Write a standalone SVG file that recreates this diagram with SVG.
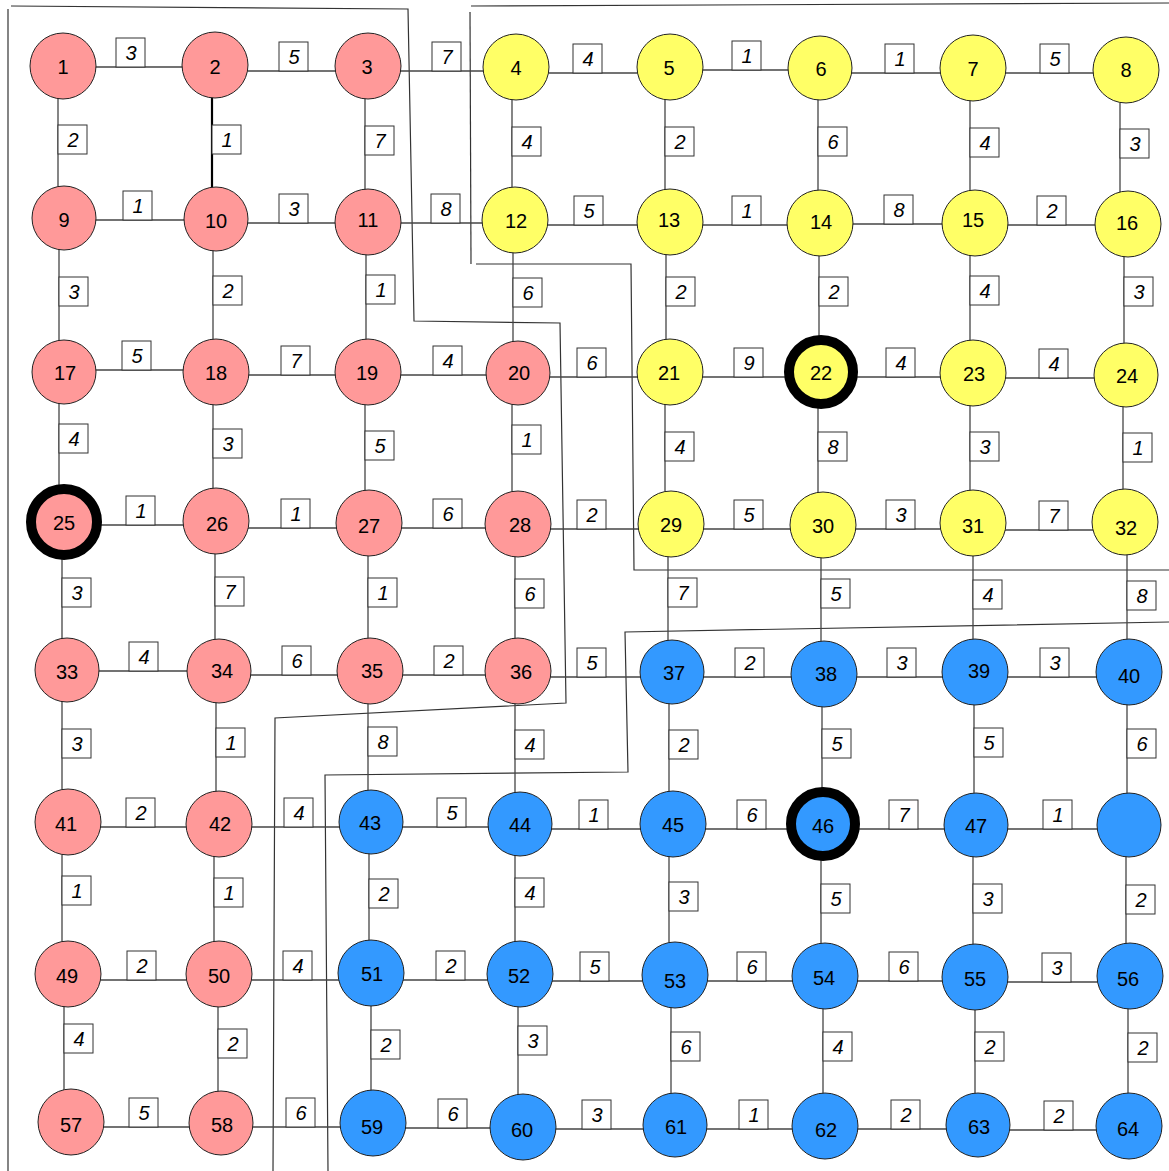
<svg xmlns="http://www.w3.org/2000/svg" width="1169" height="1171" viewBox="0 0 1169 1171">
<style>
.bg{fill:#fff}
.reg{fill:none;stroke:#333;stroke-width:1.2}
.e{stroke:#444;stroke-width:1.3}
.eb{stroke:#000;stroke-width:2.2}
.w rect{fill:#fff;stroke:#333;stroke-width:1}
.w text{font-family:"Liberation Sans",Arial,sans-serif;font-size:20px;font-style:italic;text-anchor:middle;fill:#000}
.n circle{stroke:#222;stroke-width:1}
.n text{font-family:"Liberation Sans",Arial,sans-serif;font-size:20px;text-anchor:middle;fill:#000;transform:translateY(1px)}
.r circle{fill:#FF9999}
.y circle{fill:#FFFF66}
.b circle{fill:#3399FF}
.n circle.thick{stroke:#000;stroke-width:10}
</style>
<rect class="bg" x="0" y="0" width="1169" height="1171"/>
<g id="regions">
<path class="reg" d="M8,9 L8,1171"/>
<path class="reg" d="M11,6 L408,9 L414,321 L560,323 L566,703 L275,718 L273,1171"/>
<path class="reg" d="M471,6 L1169,3"/>
<path class="reg" d="M470,12 L471,264"/>
<path class="reg" d="M476,264 L631,264 L634,570 L1169,570"/>
<path class="reg" d="M1169,622 L625,632 L628,772 L325,775 L328,1171"/>
</g>
<g id="connectors">
<line class="e" x1="63" y1="67" x2="215" y2="67"/>
<line class="e" x1="215" y1="71" x2="368" y2="71"/>
<line class="e" x1="368" y1="71" x2="516" y2="71"/>
<line class="e" x1="516" y1="73" x2="670" y2="73"/>
<line class="e" x1="670" y1="70" x2="820" y2="70"/>
<line class="e" x1="820" y1="73" x2="973" y2="73"/>
<line class="e" x1="973" y1="73" x2="1126" y2="73"/>
<line class="e" x1="64" y1="220" x2="216" y2="220"/>
<line class="e" x1="216" y1="223" x2="368" y2="223"/>
<line class="e" x1="368" y1="223" x2="515" y2="223"/>
<line class="e" x1="515" y1="225" x2="670" y2="225"/>
<line class="e" x1="670" y1="225" x2="820" y2="225"/>
<line class="e" x1="820" y1="224" x2="975" y2="224"/>
<line class="e" x1="975" y1="225" x2="1128" y2="225"/>
<line class="e" x1="64" y1="370" x2="216" y2="370"/>
<line class="e" x1="216" y1="375" x2="368" y2="375"/>
<line class="e" x1="368" y1="375" x2="518" y2="375"/>
<line class="e" x1="518" y1="377" x2="670" y2="377"/>
<line class="e" x1="670" y1="377" x2="821" y2="377"/>
<line class="e" x1="821" y1="377" x2="973" y2="377"/>
<line class="e" x1="973" y1="378" x2="1126" y2="378"/>
<line class="e" x1="64" y1="525" x2="216" y2="525"/>
<line class="e" x1="216" y1="528" x2="369" y2="528"/>
<line class="e" x1="369" y1="528" x2="518" y2="528"/>
<line class="e" x1="518" y1="529" x2="671" y2="529"/>
<line class="e" x1="671" y1="529" x2="823" y2="529"/>
<line class="e" x1="823" y1="529" x2="973" y2="529"/>
<line class="e" x1="973" y1="530" x2="1125" y2="530"/>
<line class="e" x1="67" y1="671" x2="219" y2="671"/>
<line class="e" x1="219" y1="675" x2="370" y2="675"/>
<line class="e" x1="370" y1="675" x2="518" y2="675"/>
<line class="e" x1="518" y1="677" x2="672" y2="677"/>
<line class="e" x1="672" y1="677" x2="824" y2="677"/>
<line class="e" x1="824" y1="677" x2="975" y2="677"/>
<line class="e" x1="975" y1="677" x2="1129" y2="677"/>
<line class="e" x1="68" y1="827" x2="219" y2="827"/>
<line class="e" x1="219" y1="827" x2="371" y2="827"/>
<line class="e" x1="371" y1="827" x2="520" y2="827"/>
<line class="e" x1="520" y1="829" x2="673" y2="829"/>
<line class="e" x1="673" y1="829" x2="823" y2="829"/>
<line class="e" x1="823" y1="829" x2="976" y2="829"/>
<line class="e" x1="976" y1="829" x2="1129" y2="829"/>
<line class="e" x1="68" y1="980" x2="219" y2="980"/>
<line class="e" x1="219" y1="980" x2="371" y2="980"/>
<line class="e" x1="371" y1="980" x2="520" y2="980"/>
<line class="e" x1="520" y1="981" x2="675" y2="981"/>
<line class="e" x1="675" y1="981" x2="825" y2="981"/>
<line class="e" x1="825" y1="981" x2="975" y2="981"/>
<line class="e" x1="975" y1="982" x2="1130" y2="982"/>
<line class="e" x1="71" y1="1127" x2="221" y2="1127"/>
<line class="e" x1="221" y1="1127" x2="373" y2="1127"/>
<line class="e" x1="373" y1="1128" x2="523" y2="1128"/>
<line class="e" x1="523" y1="1129" x2="675" y2="1129"/>
<line class="e" x1="675" y1="1129" x2="825" y2="1129"/>
<line class="e" x1="825" y1="1129" x2="978" y2="1129"/>
<line class="e" x1="978" y1="1130" x2="1129" y2="1130"/>
<line class="e" x1="58" y1="66" x2="58" y2="218"/>
<line class="eb" x1="212" y1="65" x2="212" y2="219"/>
<line class="e" x1="365" y1="66" x2="365" y2="222"/>
<line class="e" x1="512" y1="67" x2="512" y2="220"/>
<line class="e" x1="665" y1="67" x2="665" y2="222"/>
<line class="e" x1="818" y1="68" x2="818" y2="223"/>
<line class="e" x1="970" y1="68" x2="970" y2="223"/>
<line class="e" x1="1120" y1="70" x2="1120" y2="224"/>
<line class="e" x1="59" y1="218" x2="59" y2="372"/>
<line class="e" x1="213" y1="219" x2="213" y2="372"/>
<line class="e" x1="366" y1="222" x2="366" y2="372"/>
<line class="e" x1="513" y1="220" x2="513" y2="373"/>
<line class="e" x1="666" y1="222" x2="666" y2="372"/>
<line class="e" x1="819" y1="223" x2="819" y2="372"/>
<line class="e" x1="970" y1="223" x2="970" y2="373"/>
<line class="e" x1="1124" y1="224" x2="1124" y2="375"/>
<line class="e" x1="59" y1="372" x2="59" y2="522"/>
<line class="e" x1="213" y1="372" x2="213" y2="521"/>
<line class="e" x1="365" y1="372" x2="365" y2="523"/>
<line class="e" x1="512" y1="373" x2="512" y2="524"/>
<line class="e" x1="665" y1="372" x2="665" y2="524"/>
<line class="e" x1="818" y1="372" x2="818" y2="525"/>
<line class="e" x1="970" y1="373" x2="970" y2="523"/>
<line class="e" x1="1123" y1="375" x2="1123" y2="522"/>
<line class="e" x1="62" y1="522" x2="62" y2="670"/>
<line class="e" x1="215" y1="521" x2="215" y2="671"/>
<line class="e" x1="368" y1="523" x2="368" y2="671"/>
<line class="e" x1="515" y1="524" x2="515" y2="671"/>
<line class="e" x1="668" y1="524" x2="668" y2="672"/>
<line class="e" x1="821" y1="525" x2="821" y2="674"/>
<line class="e" x1="973" y1="523" x2="973" y2="672"/>
<line class="e" x1="1127" y1="522" x2="1127" y2="672"/>
<line class="e" x1="62" y1="670" x2="62" y2="822"/>
<line class="e" x1="216" y1="671" x2="216" y2="824"/>
<line class="e" x1="368" y1="671" x2="368" y2="822"/>
<line class="e" x1="515" y1="671" x2="515" y2="824"/>
<line class="e" x1="669" y1="672" x2="669" y2="824"/>
<line class="e" x1="822" y1="674" x2="822" y2="824"/>
<line class="e" x1="974" y1="672" x2="974" y2="825"/>
<line class="e" x1="1127" y1="672" x2="1127" y2="825"/>
<line class="e" x1="62" y1="822" x2="62" y2="974"/>
<line class="e" x1="214" y1="824" x2="214" y2="974"/>
<line class="e" x1="369" y1="822" x2="369" y2="973"/>
<line class="e" x1="515" y1="824" x2="515" y2="974"/>
<line class="e" x1="669" y1="824" x2="669" y2="975"/>
<line class="e" x1="821" y1="824" x2="821" y2="976"/>
<line class="e" x1="973" y1="825" x2="973" y2="977"/>
<line class="e" x1="1126" y1="825" x2="1126" y2="976"/>
<line class="e" x1="64" y1="974" x2="64" y2="1122"/>
<line class="e" x1="218" y1="974" x2="218" y2="1123"/>
<line class="e" x1="371" y1="973" x2="371" y2="1123"/>
<line class="e" x1="518" y1="974" x2="518" y2="1127"/>
<line class="e" x1="671" y1="975" x2="671" y2="1125"/>
<line class="e" x1="823" y1="976" x2="823" y2="1126"/>
<line class="e" x1="975" y1="977" x2="975" y2="1125"/>
<line class="e" x1="1128" y1="976" x2="1128" y2="1126"/>
</g>
<g id="weights" class="w">
<rect x="116" y="38" width="29" height="29"/><text x="131" y="60">3</text>
<rect x="279" y="42" width="29" height="29"/><text x="294" y="64">5</text>
<rect x="432" y="42" width="29" height="29"/><text x="447" y="64">7</text>
<rect x="573" y="44" width="29" height="29"/><text x="588" y="66">4</text>
<rect x="732" y="41" width="29" height="29"/><text x="747" y="63">1</text>
<rect x="885" y="44" width="29" height="29"/><text x="900" y="66">1</text>
<rect x="1040" y="44" width="29" height="29"/><text x="1055" y="66">5</text>
<rect x="123" y="191" width="29" height="29"/><text x="138" y="213">1</text>
<rect x="279" y="194" width="29" height="29"/><text x="294" y="216">3</text>
<rect x="431" y="194" width="29" height="29"/><text x="446" y="216">8</text>
<rect x="574" y="196" width="29" height="29"/><text x="589" y="218">5</text>
<rect x="732" y="196" width="29" height="29"/><text x="747" y="218">1</text>
<rect x="884" y="195" width="29" height="29"/><text x="899" y="217">8</text>
<rect x="1037" y="196" width="29" height="29"/><text x="1052" y="218">2</text>
<rect x="122" y="341" width="29" height="29"/><text x="137" y="363">5</text>
<rect x="281" y="346" width="29" height="29"/><text x="296" y="368">7</text>
<rect x="433" y="346" width="29" height="29"/><text x="448" y="368">4</text>
<rect x="577" y="348" width="29" height="29"/><text x="592" y="370">6</text>
<rect x="734" y="348" width="29" height="29"/><text x="749" y="370">9</text>
<rect x="886" y="348" width="29" height="29"/><text x="901" y="370">4</text>
<rect x="1039" y="349" width="29" height="29"/><text x="1054" y="371">4</text>
<rect x="126" y="496" width="29" height="29"/><text x="141" y="518">1</text>
<rect x="281" y="499" width="29" height="29"/><text x="296" y="521">1</text>
<rect x="433" y="499" width="29" height="29"/><text x="448" y="521">6</text>
<rect x="577" y="500" width="29" height="29"/><text x="592" y="522">2</text>
<rect x="734" y="500" width="29" height="29"/><text x="749" y="522">5</text>
<rect x="886" y="500" width="29" height="29"/><text x="901" y="522">3</text>
<rect x="1039" y="501" width="29" height="29"/><text x="1054" y="523">7</text>
<rect x="129" y="642" width="29" height="29"/><text x="144" y="664">4</text>
<rect x="282" y="646" width="29" height="29"/><text x="297" y="668">6</text>
<rect x="434" y="646" width="29" height="29"/><text x="449" y="668">2</text>
<rect x="577" y="648" width="29" height="29"/><text x="592" y="670">5</text>
<rect x="735" y="648" width="29" height="29"/><text x="750" y="670">2</text>
<rect x="887" y="648" width="29" height="29"/><text x="902" y="670">3</text>
<rect x="1040" y="648" width="29" height="29"/><text x="1055" y="670">3</text>
<rect x="126" y="798" width="29" height="29"/><text x="141" y="820">2</text>
<rect x="284" y="798" width="29" height="29"/><text x="299" y="820">4</text>
<rect x="437" y="798" width="29" height="29"/><text x="452" y="820">5</text>
<rect x="579" y="800" width="29" height="29"/><text x="594" y="822">1</text>
<rect x="737" y="800" width="29" height="29"/><text x="752" y="822">6</text>
<rect x="889" y="800" width="29" height="29"/><text x="904" y="822">7</text>
<rect x="1043" y="800" width="29" height="29"/><text x="1058" y="822">1</text>
<rect x="127" y="951" width="29" height="29"/><text x="142" y="973">2</text>
<rect x="283" y="951" width="29" height="29"/><text x="298" y="973">4</text>
<rect x="436" y="951" width="29" height="29"/><text x="451" y="973">2</text>
<rect x="580" y="952" width="29" height="29"/><text x="595" y="974">5</text>
<rect x="737" y="952" width="29" height="29"/><text x="752" y="974">6</text>
<rect x="889" y="952" width="29" height="29"/><text x="904" y="974">6</text>
<rect x="1042" y="953" width="29" height="29"/><text x="1057" y="975">3</text>
<rect x="129" y="1098" width="29" height="29"/><text x="144" y="1120">5</text>
<rect x="286" y="1098" width="29" height="29"/><text x="301" y="1120">6</text>
<rect x="438" y="1099" width="29" height="29"/><text x="453" y="1121">6</text>
<rect x="582" y="1100" width="29" height="29"/><text x="597" y="1122">3</text>
<rect x="739" y="1100" width="29" height="29"/><text x="754" y="1122">1</text>
<rect x="891" y="1100" width="29" height="29"/><text x="906" y="1122">2</text>
<rect x="1044" y="1101" width="29" height="29"/><text x="1059" y="1123">2</text>
<rect x="58" y="125" width="29" height="29"/><text x="73" y="147">2</text>
<rect x="212" y="125" width="29" height="29"/><text x="227" y="147">1</text>
<rect x="365" y="126" width="29" height="29"/><text x="380" y="148">7</text>
<rect x="512" y="127" width="29" height="29"/><text x="527" y="149">4</text>
<rect x="665" y="127" width="29" height="29"/><text x="680" y="149">2</text>
<rect x="818" y="127" width="29" height="29"/><text x="833" y="149">6</text>
<rect x="970" y="128" width="29" height="29"/><text x="985" y="150">4</text>
<rect x="1120" y="129" width="29" height="29"/><text x="1135" y="151">3</text>
<rect x="59" y="277" width="29" height="29"/><text x="74" y="299">3</text>
<rect x="213" y="276" width="29" height="29"/><text x="228" y="298">2</text>
<rect x="366" y="275" width="29" height="29"/><text x="381" y="297">1</text>
<rect x="513" y="278" width="29" height="29"/><text x="528" y="300">6</text>
<rect x="666" y="277" width="29" height="29"/><text x="681" y="299">2</text>
<rect x="819" y="277" width="29" height="29"/><text x="834" y="299">2</text>
<rect x="970" y="276" width="29" height="29"/><text x="985" y="298">4</text>
<rect x="1124" y="277" width="29" height="29"/><text x="1139" y="299">3</text>
<rect x="59" y="424" width="29" height="29"/><text x="74" y="446">4</text>
<rect x="213" y="429" width="29" height="29"/><text x="228" y="451">3</text>
<rect x="365" y="431" width="29" height="29"/><text x="380" y="453">5</text>
<rect x="512" y="425" width="29" height="29"/><text x="527" y="447">1</text>
<rect x="665" y="432" width="29" height="29"/><text x="680" y="454">4</text>
<rect x="818" y="432" width="29" height="29"/><text x="833" y="454">8</text>
<rect x="970" y="432" width="29" height="29"/><text x="985" y="454">3</text>
<rect x="1123" y="433" width="29" height="29"/><text x="1138" y="455">1</text>
<rect x="62" y="578" width="29" height="29"/><text x="77" y="600">3</text>
<rect x="215" y="577" width="29" height="29"/><text x="230" y="599">7</text>
<rect x="368" y="578" width="29" height="29"/><text x="383" y="600">1</text>
<rect x="515" y="579" width="29" height="29"/><text x="530" y="601">6</text>
<rect x="668" y="578" width="29" height="29"/><text x="683" y="600">7</text>
<rect x="821" y="579" width="29" height="29"/><text x="836" y="601">5</text>
<rect x="973" y="580" width="29" height="29"/><text x="988" y="602">4</text>
<rect x="1127" y="581" width="29" height="29"/><text x="1142" y="603">8</text>
<rect x="62" y="729" width="29" height="29"/><text x="77" y="751">3</text>
<rect x="216" y="728" width="29" height="29"/><text x="231" y="750">1</text>
<rect x="368" y="727" width="29" height="29"/><text x="383" y="749">8</text>
<rect x="515" y="730" width="29" height="29"/><text x="530" y="752">4</text>
<rect x="669" y="730" width="29" height="29"/><text x="684" y="752">2</text>
<rect x="822" y="729" width="29" height="29"/><text x="837" y="751">5</text>
<rect x="974" y="728" width="29" height="29"/><text x="989" y="750">5</text>
<rect x="1127" y="729" width="29" height="29"/><text x="1142" y="751">6</text>
<rect x="62" y="876" width="29" height="29"/><text x="77" y="898">1</text>
<rect x="214" y="878" width="29" height="29"/><text x="229" y="900">1</text>
<rect x="369" y="879" width="29" height="29"/><text x="384" y="901">2</text>
<rect x="515" y="878" width="29" height="29"/><text x="530" y="900">4</text>
<rect x="669" y="882" width="29" height="29"/><text x="684" y="904">3</text>
<rect x="821" y="884" width="29" height="29"/><text x="836" y="906">5</text>
<rect x="973" y="884" width="29" height="29"/><text x="988" y="906">3</text>
<rect x="1126" y="885" width="29" height="29"/><text x="1141" y="907">2</text>
<rect x="64" y="1024" width="29" height="29"/><text x="79" y="1046">4</text>
<rect x="218" y="1029" width="29" height="29"/><text x="233" y="1051">2</text>
<rect x="371" y="1030" width="29" height="29"/><text x="386" y="1052">2</text>
<rect x="518" y="1026" width="29" height="29"/><text x="533" y="1048">3</text>
<rect x="671" y="1032" width="29" height="29"/><text x="686" y="1054">6</text>
<rect x="823" y="1032" width="29" height="29"/><text x="838" y="1054">4</text>
<rect x="975" y="1032" width="29" height="29"/><text x="990" y="1054">2</text>
<rect x="1128" y="1033" width="29" height="29"/><text x="1143" y="1055">2</text>
</g>
<g id="nodes">
<g id="n1" class="n r"><circle cx="63" cy="66" r="33"/><text x="63" y="73">1</text></g>
<g id="n2" class="n r"><circle cx="215" cy="65" r="33"/><text x="215" y="73">2</text></g>
<g id="n3" class="n r"><circle cx="368" cy="66" r="33"/><text x="367" y="73">3</text></g>
<g id="n4" class="n y"><circle cx="516" cy="67" r="33"/><text x="516" y="74">4</text></g>
<g id="n5" class="n y"><circle cx="670" cy="67" r="33"/><text x="669" y="74">5</text></g>
<g id="n6" class="n y"><circle cx="820" cy="68" r="32"/><text x="821" y="75">6</text></g>
<g id="n7" class="n y"><circle cx="973" cy="68" r="33"/><text x="973" y="75">7</text></g>
<g id="n8" class="n y"><circle cx="1126" cy="70" r="33"/><text x="1126" y="76">8</text></g>
<g id="n9" class="n r"><circle cx="64" cy="218" r="32"/><text x="64" y="226">9</text></g>
<g id="n10" class="n r"><circle cx="216" cy="219" r="32"/><text x="216" y="227">10</text></g>
<g id="n11" class="n r"><circle cx="368" cy="222" r="33"/><text x="368" y="226">11</text></g>
<g id="n12" class="n y"><circle cx="515" cy="220" r="33"/><text x="516" y="227">12</text></g>
<g id="n13" class="n y"><circle cx="670" cy="222" r="33"/><text x="669" y="226">13</text></g>
<g id="n14" class="n y"><circle cx="820" cy="223" r="33"/><text x="821" y="228">14</text></g>
<g id="n15" class="n y"><circle cx="975" cy="223" r="33"/><text x="973" y="226">15</text></g>
<g id="n16" class="n y"><circle cx="1128" cy="224" r="33"/><text x="1127" y="229">16</text></g>
<g id="n17" class="n r"><circle cx="64" cy="372" r="32"/><text x="65" y="379">17</text></g>
<g id="n18" class="n r"><circle cx="216" cy="372" r="33"/><text x="216" y="379">18</text></g>
<g id="n19" class="n r"><circle cx="368" cy="372" r="33"/><text x="367" y="379">19</text></g>
<g id="n20" class="n r"><circle cx="518" cy="373" r="32"/><text x="519" y="379">20</text></g>
<g id="n21" class="n y"><circle cx="670" cy="372" r="33"/><text x="669" y="379">21</text></g>
<g id="n22" class="n y"><circle class="thick" cx="821" cy="372" r="32"/><text x="821" y="379">22</text></g>
<g id="n23" class="n y"><circle cx="973" cy="373" r="33"/><text x="974" y="380">23</text></g>
<g id="n24" class="n y"><circle cx="1126" cy="375" r="32"/><text x="1127" y="382">24</text></g>
<g id="n25" class="n r"><circle class="thick" cx="64" cy="522" r="33"/><text x="64" y="529">25</text></g>
<g id="n26" class="n r"><circle cx="216" cy="521" r="33"/><text x="217" y="530">26</text></g>
<g id="n27" class="n r"><circle cx="369" cy="523" r="33"/><text x="369" y="532">27</text></g>
<g id="n28" class="n r"><circle cx="518" cy="524" r="33"/><text x="520" y="531">28</text></g>
<g id="n29" class="n y"><circle cx="671" cy="524" r="33"/><text x="671" y="531">29</text></g>
<g id="n30" class="n y"><circle cx="823" cy="525" r="33"/><text x="823" y="532">30</text></g>
<g id="n31" class="n y"><circle cx="973" cy="523" r="33"/><text x="973" y="532">31</text></g>
<g id="n32" class="n y"><circle cx="1125" cy="522" r="33"/><text x="1126" y="534">32</text></g>
<g id="n33" class="n r"><circle cx="67" cy="670" r="32"/><text x="67" y="678">33</text></g>
<g id="n34" class="n r"><circle cx="219" cy="671" r="32"/><text x="222" y="677">34</text></g>
<g id="n35" class="n r"><circle cx="370" cy="671" r="33"/><text x="372" y="677">35</text></g>
<g id="n36" class="n r"><circle cx="518" cy="671" r="33"/><text x="521" y="678">36</text></g>
<g id="n37" class="n b"><circle cx="672" cy="672" r="32"/><text x="674" y="679">37</text></g>
<g id="n38" class="n b"><circle cx="824" cy="674" r="33"/><text x="826" y="680">38</text></g>
<g id="n39" class="n b"><circle cx="975" cy="672" r="33"/><text x="979" y="677">39</text></g>
<g id="n40" class="n b"><circle cx="1129" cy="672" r="33"/><text x="1129" y="682">40</text></g>
<g id="n41" class="n r"><circle cx="68" cy="822" r="33"/><text x="66" y="830">41</text></g>
<g id="n42" class="n r"><circle cx="219" cy="824" r="33"/><text x="220" y="830">42</text></g>
<g id="n43" class="n b"><circle cx="371" cy="822" r="32"/><text x="370" y="829">43</text></g>
<g id="n44" class="n b"><circle cx="520" cy="824" r="32"/><text x="520" y="831">44</text></g>
<g id="n45" class="n b"><circle cx="673" cy="824" r="33"/><text x="673" y="831">45</text></g>
<g id="n46" class="n b"><circle class="thick" cx="823" cy="824" r="32"/><text x="823" y="832">46</text></g>
<g id="n47" class="n b"><circle cx="976" cy="825" r="32"/><text x="976" y="832">47</text></g>
<g id="n48" class="n b"><circle cx="1129" cy="825" r="32"/></g>
<g id="n49" class="n r"><circle cx="68" cy="974" r="33"/><text x="67" y="982">49</text></g>
<g id="n50" class="n r"><circle cx="219" cy="974" r="33"/><text x="219" y="982">50</text></g>
<g id="n51" class="n b"><circle cx="371" cy="973" r="33"/><text x="372" y="980">51</text></g>
<g id="n52" class="n b"><circle cx="520" cy="974" r="33"/><text x="519" y="982">52</text></g>
<g id="n53" class="n b"><circle cx="675" cy="975" r="33"/><text x="675" y="987">53</text></g>
<g id="n54" class="n b"><circle cx="825" cy="976" r="33"/><text x="824" y="984">54</text></g>
<g id="n55" class="n b"><circle cx="975" cy="977" r="33"/><text x="975" y="985">55</text></g>
<g id="n56" class="n b"><circle cx="1130" cy="976" r="33"/><text x="1128" y="985">56</text></g>
<g id="n57" class="n r"><circle cx="71" cy="1122" r="33"/><text x="71" y="1131">57</text></g>
<g id="n58" class="n r"><circle cx="221" cy="1123" r="32"/><text x="222" y="1131">58</text></g>
<g id="n59" class="n b"><circle cx="373" cy="1123" r="33"/><text x="372" y="1133">59</text></g>
<g id="n60" class="n b"><circle cx="523" cy="1127" r="33"/><text x="522" y="1136">60</text></g>
<g id="n61" class="n b"><circle cx="675" cy="1125" r="32"/><text x="676" y="1133">61</text></g>
<g id="n62" class="n b"><circle cx="825" cy="1126" r="33"/><text x="826" y="1136">62</text></g>
<g id="n63" class="n b"><circle cx="978" cy="1125" r="32"/><text x="979" y="1133">63</text></g>
<g id="n64" class="n b"><circle cx="1129" cy="1126" r="33"/><text x="1128" y="1135">64</text></g>
</g>
</svg>
